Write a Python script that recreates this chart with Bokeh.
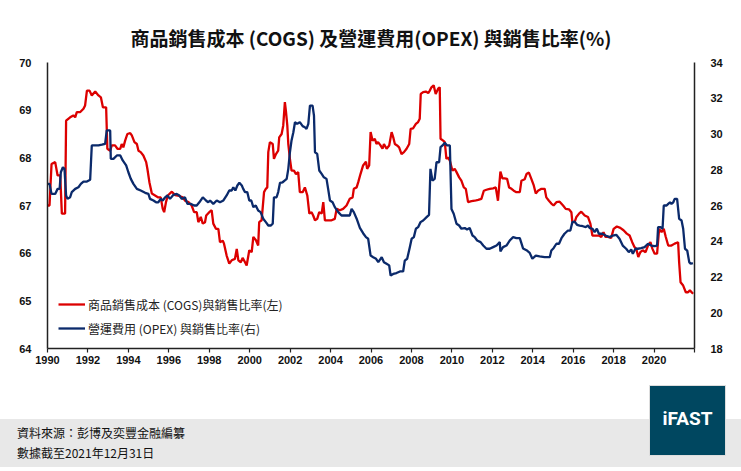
from bokeh.plotting import figure
from bokeh.models import Range1d, LinearAxis, FixedTicker, Legend, LegendItem, Div
from bokeh.layouts import column
from bokeh.core.properties import value
from bokeh.embed import file_html
from bokeh.resources import INLINE

# ---------------- data ----------------
cogs_year = [1990.00, 1990.10, 1990.20, 1990.38, 1990.50, 1990.63, 1990.71, 1990.87, 1990.92, 1991.12,
             1991.28, 1991.37, 1991.45, 1991.62, 1991.78, 1991.86, 1991.95, 1992.08, 1992.19, 1992.36,
             1992.52, 1992.64, 1992.74, 1992.90, 1992.96, 1993.10, 1993.18, 1993.34, 1993.46, 1993.60,
             1993.67, 1993.75, 1993.84, 1993.95, 1994.09, 1994.17, 1994.30, 1994.42, 1994.50, 1994.61,
             1994.74, 1994.88, 1994.94, 1995.04, 1995.16, 1995.32, 1995.48, 1995.60, 1995.70, 1995.77,
             1995.86, 1995.95, 1996.15, 1996.31, 1996.52, 1996.69, 1996.80, 1996.97, 1997.13, 1997.25,
             1997.38, 1997.46, 1997.58, 1997.68, 1997.79, 1997.85, 1998.00, 1998.12, 1998.20, 1998.33,
             1998.45, 1998.53, 1998.67, 1998.73, 1998.86, 1998.99, 1999.11, 1999.27, 1999.36, 1999.44,
             1999.56, 1999.65, 1999.77, 1999.85, 1999.98, 2000.10, 2000.18, 2000.31, 2000.42, 2000.47,
             2000.59, 2000.71, 2000.80, 2000.87, 2000.92, 2001.00, 2001.14, 2001.20, 2001.30, 2001.41,
             2001.46, 2001.58, 2001.66, 2001.74, 2001.79, 2001.86, 2001.91, 2001.99, 2002.07, 2002.19,
             2002.29, 2002.40, 2002.48, 2002.62, 2002.73, 2002.85, 2002.95, 2003.06, 2003.14, 2003.23,
             2003.34, 2003.44, 2003.56, 2003.64, 2003.72, 2003.88, 2004.05, 2004.21, 2004.30, 2004.46,
             2004.62, 2004.79, 2004.95, 2005.09, 2005.15, 2005.29, 2005.37, 2005.48, 2005.61, 2005.75,
             2005.81, 2005.91, 2005.98, 2006.08, 2006.19, 2006.27, 2006.35, 2006.47, 2006.57, 2006.64,
             2006.77, 2006.90, 2007.02, 2007.10, 2007.18, 2007.29, 2007.39, 2007.51, 2007.63, 2007.76,
             2007.89, 2007.96, 2008.08, 2008.22, 2008.33, 2008.41, 2008.46, 2008.58, 2008.71, 2008.83,
             2008.91, 2008.99, 2009.10, 2009.20, 2009.32, 2009.40, 2009.44, 2009.57, 2009.65, 2009.73,
             2009.81, 2009.90, 2010.03, 2010.14, 2010.23, 2010.36, 2010.47, 2010.59, 2010.69, 2010.80,
             2010.97, 2011.13, 2011.30, 2011.46, 2011.58, 2011.71, 2011.87, 2012.04, 2012.17, 2012.28,
             2012.40, 2012.50, 2012.61, 2012.73, 2012.83, 2012.95, 2013.06, 2013.19, 2013.36, 2013.44,
             2013.60, 2013.69, 2013.81, 2013.93, 2014.05, 2014.15, 2014.26, 2014.43, 2014.59, 2014.67,
             2014.80, 2014.92, 2015.03, 2015.17, 2015.33, 2015.50, 2015.63, 2015.79, 2015.91, 2015.96,
             2016.07, 2016.16, 2016.29, 2016.40, 2016.57, 2016.73, 2016.85, 2016.95, 2017.11, 2017.27,
             2017.39, 2017.50, 2017.60, 2017.72, 2017.88, 2018.00, 2018.16, 2018.33, 2018.49, 2018.65,
             2018.79, 2018.92, 2019.03, 2019.12, 2019.22, 2019.32, 2019.44, 2019.58, 2019.70, 2019.82,
             2019.92, 2020.03, 2020.15, 2020.25, 2020.37, 2020.48, 2020.58, 2020.70, 2020.86, 2021.02,
             2021.19, 2021.24, 2021.31, 2021.44, 2021.57, 2021.68, 2021.77, 2021.93]
cogs_ratio = [67.00, 67.00, 67.87, 67.91, 67.63, 67.63, 66.83, 66.83, 68.78, 68.85,
              68.89, 68.85, 68.96, 68.96, 69.03, 69.10, 69.41, 69.41, 69.31, 69.39,
              69.31, 69.27, 69.06, 69.06, 68.19, 68.15, 68.26, 68.26, 68.19, 68.19,
              68.29, 68.22, 68.36, 68.50, 68.52, 68.47, 68.33, 68.29, 68.15, 68.12,
              68.05, 67.91, 67.77, 67.49, 67.25, 67.21, 67.17, 67.17, 66.93, 66.86,
              67.07, 67.21, 67.29, 67.22, 67.20, 67.17, 67.10, 67.07, 67.00, 66.86,
              66.86, 66.65, 66.76, 66.62, 66.65, 66.79, 66.86, 66.90, 66.62, 66.51,
              66.51, 66.23, 66.26, 66.20, 65.95, 65.78, 65.85, 65.88, 66.09, 65.85,
              65.81, 65.90, 65.81, 65.74, 66.06, 66.02, 66.34, 66.27, 66.16, 66.65,
              66.69, 67.28, 67.35, 67.38, 68.12, 68.33, 68.29, 67.98, 68.08, 68.15,
              68.43, 68.50, 68.68, 69.17, 68.99, 68.68, 68.29, 67.98, 67.73, 67.73,
              67.66, 67.70, 67.28, 67.28, 67.38, 67.21, 66.83, 66.86, 66.79, 66.69,
              66.72, 66.86, 66.83, 67.07, 66.69, 66.69, 66.69, 66.72, 66.93, 66.90,
              66.93, 67.00, 67.14, 67.17, 67.35, 67.38, 67.49, 67.66, 67.84, 67.92,
              67.77, 67.84, 68.54, 68.36, 68.40, 68.29, 68.33, 68.26, 68.19, 68.29,
              68.19, 68.26, 68.54, 68.43, 68.29, 68.26, 68.22, 68.08, 68.12, 68.19,
              68.29, 68.61, 68.62, 68.71, 68.75, 68.82, 69.34, 69.38, 69.39, 69.36,
              69.41, 69.48, 69.52, 69.34, 69.45, 69.48, 68.40, 68.36, 68.33, 67.98,
              68.01, 67.94, 67.73, 67.77, 67.70, 67.59, 67.52, 67.38, 67.35, 67.07,
              67.09, 67.10, 67.12, 67.14, 67.31, 67.33, 67.35, 67.36, 67.38, 67.10,
              67.71, 67.57, 67.57, 67.56, 67.38, 67.35, 67.31, 67.28, 67.28, 67.52,
              67.55, 67.66, 67.69, 67.56, 67.42, 67.25, 67.31, 67.35, 67.35, 67.17,
              67.10, 67.04, 67.00, 67.07, 67.08, 67.00, 66.93, 66.92, 66.86, 66.65,
              66.65, 66.76, 66.83, 66.87, 66.79, 66.76, 66.62, 66.37, 66.37, 66.37,
              66.34, 66.44, 66.34, 66.34, 66.32, 66.51, 66.56, 66.53, 66.48, 66.41,
              66.37, 66.23, 66.13, 66.09, 65.92, 66.02, 66.06, 66.02, 66.16, 66.23,
              66.09, 65.99, 65.99, 66.51, 66.44, 66.51, 66.34, 66.16, 66.16, 66.20,
              66.23, 65.81, 65.39, 65.32, 65.18, 65.18, 65.22, 65.15]

opex_year = [1990.00, 1990.10, 1990.20, 1990.38, 1990.50, 1990.60, 1990.66, 1990.76, 1990.84, 1990.92,
             1990.99, 1991.12, 1991.20, 1991.37, 1991.53, 1991.65, 1991.78, 1991.95, 1992.11, 1992.19,
             1992.36, 1992.52, 1992.69, 1992.85, 1992.93, 1993.10, 1993.13, 1993.26, 1993.43, 1993.60,
             1993.72, 1993.89, 1994.00, 1994.12, 1994.25, 1994.42, 1994.61, 1994.83, 1994.99, 1995.07,
             1995.24, 1995.37, 1995.48, 1995.60, 1995.70, 1995.82, 1995.93, 1996.06, 1996.23, 1996.39,
             1996.52, 1996.64, 1996.80, 1996.92, 1997.08, 1997.25, 1997.38, 1997.51, 1997.68, 1997.84,
             1997.95, 1998.04, 1998.20, 1998.37, 1998.53, 1998.70, 1998.86, 1998.99, 1999.11, 1999.19,
             1999.29, 1999.39, 1999.49, 1999.61, 1999.68, 1999.77, 1999.88, 1999.98, 2000.08, 2000.18,
             2000.30, 2000.42, 2000.54, 2000.67, 2000.80, 2000.92, 2001.04, 2001.14, 2001.20, 2001.33,
             2001.41, 2001.50, 2001.63, 2001.74, 2001.83, 2001.91, 2001.99, 2002.07, 2002.16, 2002.24,
             2002.35, 2002.48, 2002.62, 2002.73, 2002.81, 2002.90, 2002.98, 2003.11, 2003.18, 2003.23,
             2003.34, 2003.44, 2003.56, 2003.67, 2003.80, 2003.88, 2003.97, 2004.10, 2004.21, 2004.38,
             2004.54, 2004.79, 2004.95, 2005.04, 2005.15, 2005.29, 2005.45, 2005.61, 2005.75, 2005.86,
             2005.98, 2006.11, 2006.25, 2006.36, 2006.53, 2006.64, 2006.77, 2006.90, 2006.97, 2007.10,
             2007.26, 2007.43, 2007.59, 2007.67, 2007.79, 2007.92, 2008.01, 2008.12, 2008.22, 2008.33,
             2008.45, 2008.58, 2008.75, 2008.87, 2008.94, 2009.04, 2009.15, 2009.24, 2009.37, 2009.44,
             2009.54, 2009.65, 2009.76, 2009.90, 2009.98, 2010.09, 2010.23, 2010.36, 2010.47, 2010.64,
             2010.75, 2010.88, 2011.02, 2011.13, 2011.25, 2011.42, 2011.55, 2011.71, 2011.87, 2012.04,
             2012.21, 2012.37, 2012.40, 2012.53, 2012.70, 2012.86, 2013.03, 2013.19, 2013.36, 2013.52,
             2013.69, 2013.85, 2013.98, 2014.15, 2014.34, 2014.59, 2014.84, 2014.92, 2015.03, 2015.17,
             2015.30, 2015.42, 2015.57, 2015.74, 2015.86, 2015.96, 2016.07, 2016.19, 2016.32, 2016.48,
             2016.62, 2016.73, 2016.82, 2016.95, 2017.06, 2017.17, 2017.27, 2017.44, 2017.60, 2017.80,
             2017.96, 2018.13, 2018.29, 2018.45, 2018.62, 2018.75, 2018.87, 2018.95, 2019.08, 2019.20,
             2019.36, 2019.53, 2019.70, 2019.86, 2020.03, 2020.15, 2020.20, 2020.32, 2020.42, 2020.48,
             2020.62, 2020.70, 2020.79, 2020.86, 2020.95, 2021.02, 2021.14, 2021.24, 2021.36, 2021.44,
             2021.53, 2021.64, 2021.74, 2021.81, 2021.92]
opex_ratio = [27.21, 27.21, 26.65, 26.65, 26.93, 26.93, 27.86, 28.14, 28.05, 26.56,
              26.37, 26.46, 26.75, 26.93, 27.02, 27.21, 27.34, 27.34, 27.44, 29.36,
              29.36, 29.36, 29.40, 29.45, 30.20, 30.20, 28.61, 28.61, 28.80, 28.80,
              28.52, 28.24, 27.86, 27.49, 27.21, 26.93, 26.84, 26.71, 26.65, 26.37,
              26.28, 26.18, 26.18, 26.37, 26.28, 26.46, 26.56, 26.37, 26.60, 26.65,
              26.56, 26.37, 26.46, 26.09, 26.09, 26.00, 26.00, 26.18, 26.46, 26.28,
              26.18, 26.28, 26.09, 26.28, 26.18, 26.28, 26.56, 26.84, 26.84, 27.02,
              26.84, 27.12, 27.27, 27.12, 26.93, 26.75, 26.75, 26.28, 26.28, 25.91,
              26.00, 25.72, 25.63, 25.26, 25.07, 24.88, 24.88, 24.98, 26.46, 26.46,
              26.75, 27.27, 27.30, 27.40, 27.49, 28.05, 28.98, 29.64, 30.10, 30.66,
              30.57, 30.66, 30.44, 30.38, 30.29, 30.57, 31.59, 31.59, 31.03, 28.98,
              28.89, 27.96, 27.77, 27.58, 27.49, 26.93, 26.28, 26.18, 25.91, 25.63,
              25.44, 25.44, 25.44, 25.81, 25.63, 25.26, 24.75, 24.45, 24.23, 24.14,
              23.20, 23.11, 23.02, 22.83, 23.11, 22.83, 22.74, 22.65, 22.08, 22.17,
              22.22, 22.31, 22.31, 22.92, 23.02, 23.67, 24.14, 24.23, 24.70, 24.79,
              25.07, 25.16, 25.35, 25.48, 28.05, 27.40, 27.49, 28.42, 28.42, 29.26,
              29.36, 29.51, 29.36, 29.36, 25.81, 25.54, 24.98, 24.88, 24.70, 24.74,
              24.66, 24.74, 24.32, 24.23, 24.04, 23.95, 23.76, 23.58, 23.58, 23.67,
              23.76, 23.95, 23.43, 23.67, 23.76, 24.04, 24.23, 24.17, 24.17, 23.60,
              23.50, 23.35, 23.02, 23.20, 23.15, 23.11, 23.11, 23.48, 23.61, 23.86,
              23.86, 24.17, 24.42, 24.60, 24.60, 25.07, 25.10, 24.92, 24.88, 24.84,
              24.79, 24.88, 24.74, 24.70, 24.51, 24.70, 24.42, 24.42, 24.32, 24.23,
              24.32, 24.36, 24.14, 23.76, 23.58, 23.39, 23.54, 23.30, 23.58, 23.58,
              23.61, 23.67, 23.86, 23.76, 23.73, 23.76, 24.79, 24.79, 24.70, 26.00,
              26.00, 26.09, 26.18, 26.09, 26.18, 26.37, 26.37, 25.26, 25.16, 24.70,
              23.58, 23.48, 22.83, 22.74, 22.78]

x_ticks = [1990, 1992, 1994, 1996, 1998, 2000, 2002, 2004, 2006, 2008, 2010,
           2012, 2014, 2016, 2018, 2020, 2022]
left_ticks = [64, 65, 66, 67, 68, 69, 70]
right_ticks = [18, 20, 22, 24, 26, 28, 30, 32, 34]

title_text = "商品銷售成本 (COGS) 及營運費用(OPEX) 與銷售比率(%)"
legend_cogs = "商品銷售成本 (COGS)與銷售比率(左)"
legend_opex = "營運費用 (OPEX) 與銷售比率(右)"
source_text = "資料來源：彭博及奕豐金融編纂"
date_text = "數據截至2021年12月31日"
logo_text = "iFAST"

RED = "#dc0000"
BLUE = "#0b2a6b"
AXIS = "#222222"
CJK = "Noto Sans CJK TC"
NUM = "Liberation Sans"
W = 741

# ---------------- header (title) ----------------
hdr = figure(width=W, height=50, x_range=Range1d(0, W), y_range=Range1d(50, 0),
             output_backend="svg", toolbar_location=None,
             x_axis_location=None, y_axis_location=None,
             min_border=0, outline_line_color=None)
hdr.grid.visible = False
hdr.text(x=[W / 2], y=[37], text=[title_text], text_font=value(CJK),
         text_font_style="bold", text_font_size="19px", text_color="#111111",
         text_align="center", text_baseline="middle")

# ---------------- main chart ----------------
p = figure(width=W, height=328, output_backend="svg", toolbar_location=None,
           x_range=Range1d(1990, 2022), y_range=Range1d(64, 70),
           min_border_left=47, min_border_right=47, min_border_top=12,
           min_border_bottom=30, outline_line_color=None)
p.extra_y_ranges = {"right": Range1d(18, 34)}
p.grid.visible = False

r1 = p.line(cogs_year, cogs_ratio, line_color=RED, line_width=2.3)
r2 = p.line(opex_year, opex_ratio, line_color=BLUE, line_width=2.3,
            y_range_name="right")

xa = p.xaxis[0]
xa.ticker = FixedTicker(ticks=x_ticks)
xa.major_label_overrides = {2022: ""}
xa.major_tick_out = 4
xa.major_tick_in = 0
xa.major_label_standoff = 3

ya = p.yaxis[0]
ya.ticker = FixedTicker(ticks=left_ticks)
ya.major_label_standoff = 10

yr = LinearAxis(y_range_name="right", ticker=FixedTicker(ticks=right_ticks))
yr.major_label_standoff = 10
p.add_layout(yr, "right")

for ax in [xa, ya, yr]:
    ax.axis_line_color = AXIS
    ax.axis_line_width = 1.5
    ax.minor_tick_line_color = None
    ax.major_tick_line_color = AXIS if ax is xa else None
    ax.major_tick_line_width = 1.2
    ax.major_label_text_font = NUM
    ax.major_label_text_font_style = "bold"
    ax.major_label_text_font_size = "11px"
    ax.major_label_text_color = "#111111"

legend = Legend(items=[LegendItem(label=legend_cogs, renderers=[r1]),
                       LegendItem(label=legend_opex, renderers=[r2])],
                location=(11, 10), orientation="vertical",
                background_fill_alpha=0, border_line_color=None,
                padding=0, margin=0, spacing=4,
                glyph_width=27, glyph_height=20, label_height=20,
                label_standoff=3,
                label_text_font=CJK, label_text_font_size="12px",
                label_text_color="#222222")
p.add_layout(legend)

# ---------------- footer (source note + logo) ----------------
note_style = ("position:absolute;left:17px;font-family:'Noto Sans CJK TC';"
              "font-size:12px;line-height:16px;color:#111111;white-space:nowrap;")
footer_html = (
    f'<div style="position:relative;width:{W}px;height:93px;">'
    f'<div style="position:absolute;left:0;top:41px;width:{W}px;height:48px;'
    'background:#e8e8e8;"></div>'
    f'<div style="{note_style}top:47px;">{source_text}</div>'
    f'<div style="{note_style}top:67px;">{date_text}</div>'
    '<div style="position:absolute;left:649px;top:7px;width:77px;height:71px;'
    'box-sizing:border-box;background:#004760;border:1px solid #dddddd;'
    'display:flex;align-items:center;justify-content:center;color:#ffffff;'
    "font-family:Roboto;font-weight:bold;font-size:19px;padding-bottom:3px;\">"
    f'{logo_text}</div>'
    '</div>'
)
ftr = Div(text=footer_html, width=W, height=93, margin=0)

layout = column(hdr, p, ftr, spacing=0)
open("out.html", "w").write(file_html(layout, INLINE))
